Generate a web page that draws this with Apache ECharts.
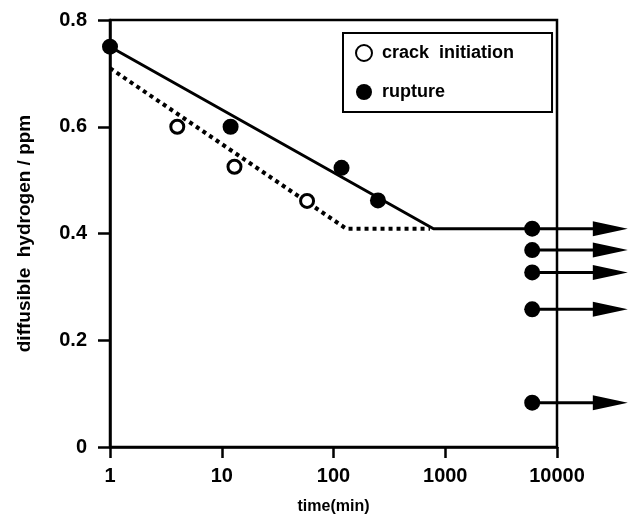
<!DOCTYPE html>
<html>
<head>
<meta charset="utf-8">
<style>
    html, body { margin: 0; padding: 0; background: #fff; }
    #chart { width: 636px; height: 515px; }
</style>
<script src="https://cdn.jsdelivr.net/npm/echarts@6/dist/echarts.min.js"></script>
</head>
<body>
<div id="chart"></div>
<script>
    // values
    const crackTime = [4, 13, 58];
    const crackH = [0.60, 0.525, 0.461];
    const ruptureTime = [1, 12, 118, 250, 6000, 6000, 6000, 6000, 6000];
    const ruptureH = [0.75, 0.60, 0.523, 0.462, 0.409, 0.369, 0.327, 0.258, 0.083];
    // fitted lines
    const solidTime = [1, 785, 6000];
    const solidH = [0.75, 0.409, 0.409];
    const dottedTime = [1, 130, 730];
    const dottedH = [0.71, 0.409, 0.409];
    // "not broken" arrows
    const arrowFrom = 6000;
    const arrowTo = 30000;
    const arrowH = [0.409, 0.369, 0.327, 0.258, 0.083];
    const xTickLabels = ['1', '10', '100', '1000', '10000'];

    const font = 'Liberation Sans, Arial, Helvetica, sans-serif';
    const zip = (xs, ys) => xs.map((x, i) => [x, ys[i]]);

    const myChart = echarts.init(document.getElementById('chart'));

    const option = {
        animation: false,
        backgroundColor: '#fff',
        textStyle: { fontFamily: font, color: '#000' },
        grid: {
            left: 110, right: 79, top: 20, bottom: 68,
            outerBoundsMode: 'none',
            show: true,
            borderColor: '#000',
            borderWidth: 2.5,
            backgroundColor: 'transparent'
        },
        legend: {
            data: ['crack initiation', 'rupture'],
            orient: 'vertical',
            left: 343,
            top: 33,
            padding: [11, 38, 11, 12],
            itemGap: 21,
            itemWidth: 16,
            itemHeight: 16,
            borderColor: '#000',
            borderWidth: 2,
            formatter: (name) => name === 'crack initiation' ? 'crack  initiation' : name,
            textStyle: { fontFamily: font, fontSize: 18, fontWeight: 'bold', color: '#000', padding: [0, 0, 0, 5] }
        },
        xAxis: {
            type: 'log',
            logBase: 10,
            min: 1,
            max: 10000,
            name: 'time(min)',
            nameLocation: 'middle',
            nameGap: 52,
            nameTextStyle: { fontFamily: font, fontSize: 16, fontWeight: 'bold', color: '#000' },
            axisLine: { lineStyle: { color: '#000', width: 2.5 } },
            axisTick: { inside: false, length: 11, lineStyle: { color: '#000', width: 2.5 } },
            minorTick: { show: false },
            splitLine: { show: false },
            axisLabel: {
                margin: 19,
                fontFamily: font,
                fontSize: 20,
                fontWeight: 'bold',
                color: '#000',
                formatter: (v) => xTickLabels[Math.round(Math.log10(v))]
            }
        },
        yAxis: {
            type: 'value',
            min: 0,
            max: 0.8,
            interval: 0.2,
            name: 'diffusible  hydrogen / ppm',
            nameLocation: 'middle',
            nameRotate: 90,
            nameGap: 76,
            nameTextStyle: { fontFamily: font, fontSize: 19, fontWeight: 'bold', color: '#000' },
            axisLine: { show: true, lineStyle: { color: '#000', width: 2.5 } },
            axisTick: { show: true, inside: false, length: 12, lineStyle: { color: '#000', width: 2.5 } },
            splitLine: { show: false },
            axisLabel: {
                margin: 23,
                fontFamily: font,
                fontSize: 20,
                fontWeight: 'bold',
                color: '#000'
            }
        },
        series: [{
            name: 'solid',
            type: 'line',
            data: zip(solidTime, solidH),
            symbol: 'none',
            lineStyle: { color: '#000', width: 3 },
            z: 3
        }, {
            name: 'dotted',
            type: 'line',
            data: zip(dottedTime, dottedH),
            symbol: 'none',
            lineStyle: { color: '#000', width: 4, type: [4, 4] },
            z: 3
        }, {
            name: 'arrow',
            type: 'custom',
            clip: false,
            data: arrowH.map((h) => [arrowFrom, h, arrowTo]),
            renderItem: (params, api) => {
                const p0 = api.coord([api.value(0), api.value(1)]);
                const p1 = api.coord([api.value(2), api.value(1)]);
                return {
                    type: 'line',
                    shape: { x1: p0[0], y1: p0[1], x2: p1[0], y2: p1[1] },
                    style: { stroke: '#000', lineWidth: 3 }
                };
            },
            z: 3
        }, {
            name: 'arrowhead',
            type: 'scatter',
            data: arrowH.map((h) => [arrowTo, h]),
            symbol: 'triangle',
            symbolSize: [15, 35],
            symbolRotate: -90,
            clip: false,
            itemStyle: { color: '#000', opacity: 1 },
            z: 4
        }, {
            name: 'crack initiation',
            type: 'scatter',
            data: zip(crackTime, crackH),
            symbol: 'circle',
            symbolSize: 13,
            clip: false,
            itemStyle: { color: '#fff', borderColor: '#000', borderWidth: 3, opacity: 1 },
            z: 5
        }, {
            name: 'rupture',
            type: 'scatter',
            data: zip(ruptureTime, ruptureH),
            symbol: 'circle',
            symbolSize: 16,
            clip: false,
            itemStyle: { color: '#000', opacity: 1 },
            z: 5
        }]
    };

    myChart.setOption(option);
</script>
</body>
</html>
